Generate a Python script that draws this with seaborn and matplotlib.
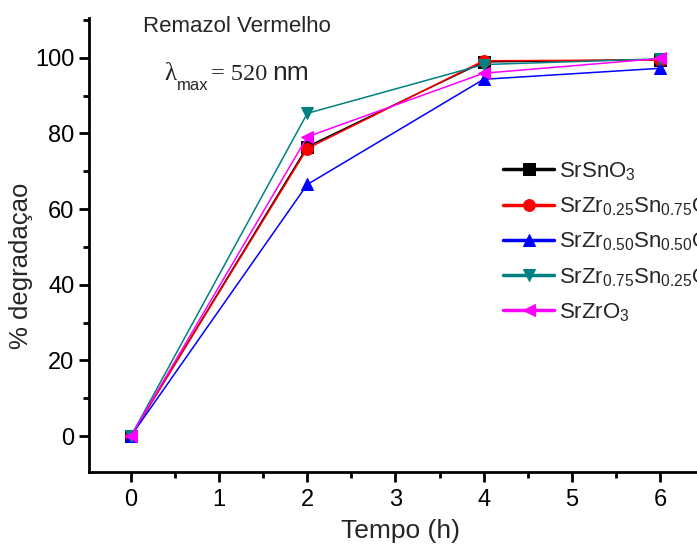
import pandas as pd
import matplotlib
matplotlib.use('Agg')
import matplotlib.pyplot as plt
import seaborn as sns
import numpy as np

# data
tempo = [0, 2, 4, 6]
sr_sn = [0, 76.5, 98.9, 99.5]
sr_zr25 = [0, 76.0, 99.2, 99.4]
sr_zr50 = [0, 66.5, 94.3, 97.2]
sr_zr75 = [0, 85.3, 98.2, 99.7]
sr_zr = [0, 79.1, 95.9, 99.8]

labels = ['SrSnO$_3$',
          'SrZr$_{0.25}$Sn$_{0.75}$O$_3$',
          'SrZr$_{0.50}$Sn$_{0.50}$O$_3$',
          'SrZr$_{0.75}$Sn$_{0.25}$O$_3$',
          'SrZrO$_3$']
colors = ['black', '#ff0000', '#0000ff', '#008080', '#ff00ff']
markers = ['s', 'o', '^', 'v', '<']

sns.set_style('ticks')
plt.rcParams['font.family'] = ['Liberation Sans', 'DejaVu Sans']
plt.rcParams['mathtext.default'] = 'regular'

fig = plt.figure(figsize=(6.97, 5.44), dpi=100)
ax = fig.add_axes([89 / 697, 72 / 544, 608 / 697, 454 / 544])

series = [sr_sn, sr_zr25, sr_zr50, sr_zr75, sr_zr]
for vals, lab, c, m in zip(series, labels, colors, markers):
    df = pd.DataFrame({'t': tempo, 'deg': vals})
    sns.lineplot(data=df, x='t', y='deg', ax=ax, color=c, marker=m,
                 markersize=8.5, markeredgecolor=c, linewidth=1.1, label=lab)

ax.set_xlim(-0.476, 6.42)
ax.set_ylim(-9.5, 110.5)
ax.set_xticks(np.arange(0, 7, 1))
ax.set_xticks(np.arange(0.5, 6.5, 1), minor=True)
ax.set_yticks(np.arange(0, 101, 20))
ax.set_yticks(np.arange(10, 111, 20), minor=True)
ax.tick_params(axis='both', which='major', direction='out', length=7,
               width=2, labelsize=17, color='black', labelcolor='black')
ax.tick_params(axis='x', which='major', pad=5)
ax.tick_params(axis='both', which='minor', direction='out', length=4,
               width=2, color='black')
sns.despine(ax=ax)
for s in ['left', 'bottom']:
    ax.spines[s].set_linewidth(2)
    ax.spines[s].set_color('black')

ax.set_xlabel('Tempo (h)', fontsize=19)
ax.set_ylabel('% degradaçao', fontsize=18.5)
ax.xaxis.set_label_coords(0.513, -0.104)
ax.yaxis.set_label_coords(-0.092, 0.454)

# annotations placed in pixel coordinates of the figure
ax.text(143, 544 - 26, 'Remazol Vermelho', transform=None, fontsize=16,
        va='center', ha='left')
ax.text(164, 544 - 74, 'λ', transform=None, fontsize=18,
        va='center', ha='left', family='Liberation Serif')
ax.text(177, 544 - 86, 'max', transform=None, fontsize=12,
        va='center', ha='left')
ax.text(211, 544 - 74, '= 520', transform=None, fontsize=17.5,
        va='center', ha='left', family='Liberation Serif')
ax.text(272, 544 - 73, 'nm', transform=None, fontsize=19,
        va='center', ha='left')

leg = ax.legend(loc='upper left', bbox_to_anchor=(492 / 697, 1 - 149 / 544),
                bbox_transform=fig.transFigure, frameon=False, fontsize=16,
                handlelength=2.3, handletextpad=0.2, labelspacing=0.57,
                borderpad=0)
for h in leg.get_lines():
    h.set_linewidth(2.5)

fig.savefig('out.png', dpi=100)
